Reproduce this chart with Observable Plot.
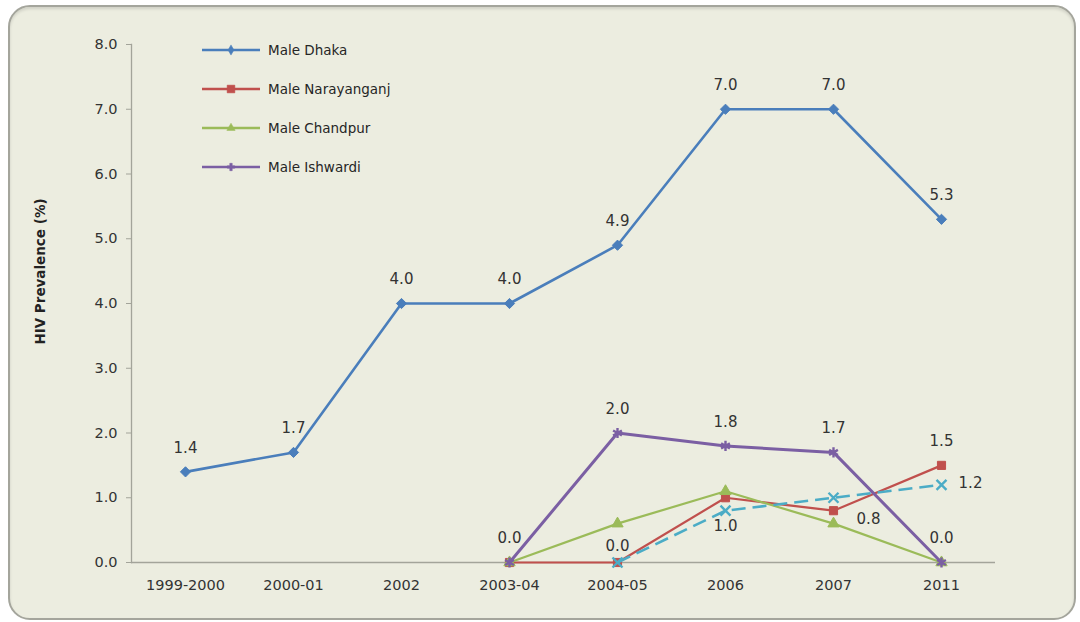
<!DOCTYPE html>
<html>
<head>
<meta charset="utf-8">
<script src="https://cdn.jsdelivr.net/npm/d3@7"></script>
<script src="https://cdn.jsdelivr.net/npm/@observablehq/plot@0.6"></script>
<style>
  html, body { margin: 0; padding: 0; background: #ffffff; }
  body { width: 1080px; height: 622px; position: relative; overflow: hidden; font-family: "DejaVu Sans", sans-serif; }
  #panel {
    position: absolute; left: 8px; top: 5px; width: 1064px; height: 611px;
    border: 2px solid #a4a59c; border-radius: 22px; background: #ecede0;
    box-shadow: inset 0 2px 3px rgba(0,0,0,0.12);
  }
  #chart { position: absolute; left: 0; top: 0; }
  #legend { position: absolute; left: 200px; top: 40px; }
  .lg-row { display: flex; align-items: center; height: 20px; margin-bottom: 19px; }
  .lg-row span { font-size: 13.5px; color: #262626; margin-left: 6px; }
</style>
</head>
<body>
<div id="panel"></div>
<div id="chart"></div>
<div id="legend"></div>
<script>
// Survey rounds on the x axis
const years = ["1999-2000", "2000-01", "2002", "2003-04", "2004-05", "2006", "2007", "2011"];

// HIV prevalence (%) among males by site; null = no survey that round
const maleDhaka       = [1.4, 1.7, 4.0, 4.0, 4.9, 7.0, 7.0, 5.3];
const maleNarayanganj = [null, null, null, 0.0, 0.0, 1.0, 0.8, 1.5];
const maleChandpur    = [null, null, null, 0.0, 0.6, 1.1, 0.6, 0.0];
const maleIshwardi    = [null, null, null, 0.0, 2.0, 1.8, 1.7, 0.0];
const dashedSeries    = [null, null, null, null, 0.0, 0.8, 1.0, 1.2];

// Y axis ticks
const yTicks = [0, 1, 2, 3, 4, 5, 6, 7, 8];

// Which points carry a value label, and where the label sits
const dhakaLabels       = ["1999-2000", "2000-01", "2002", "2003-04", "2004-05", "2006", "2007", "2011"];
const ishwardiLabels    = ["2003-04", "2004-05", "2006", "2007", "2011"];
const narayanganjLabels = [["2004-05", "aboveNear"], ["2006", "below"], ["2007", "belowRight"], ["2011", "above"]];
const dashedLabels      = [["2011", "right"]];

// Drawing styles per series
const styles = {
  "Male Dhaka":       {color: "#4a7ebb", width: 2.6, symbol: "diamond2", r: 4.6, filled: true},
  "Male Narayanganj": {color: "#c0504d", width: 2.2, symbol: "square",   r: 4.6, filled: true},
  "Male Chandpur":    {color: "#9bbb59", width: 2.2, symbol: "triangle", r: 4.2, filled: true},
  "Male Ishwardi":    {color: "#7b5fa3", width: 3.0, symbol: "asterisk", r: 4.8, filled: false},
  "dashed":           {color: "#4bacc6", width: 2.6, symbol: "times",    r: 4.6, filled: false, dash: "14,7"}
};

const seriesList = [
  ["Male Dhaka", maleDhaka],
  ["Male Narayanganj", maleNarayanganj],
  ["Male Chandpur", maleChandpur],
  ["Male Ishwardi", maleIshwardi],
  ["dashed", dashedSeries]
];

const rows = [];
for (const [name, vals] of seriesList) {
  vals.forEach((v, i) => { if (v !== null) rows.push({series: name, year: years[i], value: v}); });
}
const valueOf = (name, year) => seriesList.find(s => s[0] === name)[1][years.indexOf(year)];

const labelRows = [];
dhakaLabels.forEach(y => labelRows.push({series: "Male Dhaka", year: y, value: valueOf("Male Dhaka", y), pos: "above"}));
ishwardiLabels.forEach(y => labelRows.push({series: "Male Ishwardi", year: y, value: valueOf("Male Ishwardi", y), pos: "above"}));
narayanganjLabels.forEach(([y, p]) => labelRows.push({series: "Male Narayanganj", year: y, value: valueOf("Male Narayanganj", y), pos: p}));
dashedLabels.forEach(([y, p]) => labelRows.push({series: "dashed", year: y, value: valueOf("dashed", y), pos: p}));

const offsets = {
  above: [0, -24], aboveNear: [0, -16], below: [0, 28], belowRight: [35, 8], right: [29, -2]
};

const seriesMarks = [];
for (const [name] of seriesList) {
  const st = styles[name];
  const data = rows.filter(r => r.series === name);
  seriesMarks.push(Plot.line(data, {
    x: "year", y: "value", stroke: st.color, strokeWidth: st.width,
    strokeDasharray: st.dash, strokeLinejoin: "round", strokeLinecap: "butt"
  }));
  seriesMarks.push(Plot.dot(data, st.filled
    ? {x: "year", y: "value", symbol: () => st.symbol, r: st.r, fill: st.color, stroke: st.color, strokeWidth: 1}
    : {x: "year", y: "value", symbol: () => st.symbol, r: st.r, fill: "none", stroke: st.color, strokeWidth: 2.4}));
}

const labelMarks = Object.keys(offsets).map(p => Plot.text(labelRows.filter(d => d.pos === p), {
  x: "year", y: "value", text: d => d.value.toFixed(1),
  dx: offsets[p][0], dy: offsets[p][1],
  fill: "#333333", fontSize: 15, textAnchor: "middle"
}));

const chart = Plot.plot({
  width: 1080,
  height: 622,
  marginLeft: 131,
  marginRight: 85,
  marginTop: 44,
  marginBottom: 60,
  style: {background: "transparent", fontFamily: "DejaVu Sans, sans-serif", overflow: "visible"},
  x: {type: "point", domain: years, padding: 0.5},
  y: {domain: [0, 8]},
  symbol: {type: "identity"},
  marks: [
    Plot.ruleY([0], {stroke: "#a3a49a", strokeWidth: 1.3}),
    Plot.frame({anchor: "left", stroke: "#a3a49a", strokeWidth: 1.3}),
    Plot.axisY({ticks: yTicks, tickFormat: d => d.toFixed(1), tickSize: 5, tickPadding: 9,
      stroke: "#a3a49a", fill: "#333333", fontSize: 14.5, label: null}),
    Plot.axisX({tickSize: 0, tickPadding: 17, fill: "#333333", fontSize: 14.5, label: null,
      style: {letterSpacing: "0.4px"}}),
    Plot.text(["HIV Prevalence (%)"], {frameAnchor: "left", textAnchor: "middle", dx: -91, dy: -32, rotate: -90,
      fontWeight: "bold", fontSize: 13.5, fill: "#222222"}),
    ...seriesMarks,
    ...labelMarks
  ]
});
document.getElementById("chart").append(chart);

// Legend for the four named sites
const legendNames = ["Male Dhaka", "Male Narayanganj", "Male Chandpur", "Male Ishwardi"];
const legendSymbols = {
  "Male Dhaka": d3.symbolDiamond, "Male Narayanganj": d3.symbolSquare,
  "Male Chandpur": d3.symbolTriangle, "Male Ishwardi": d3.symbolCross
};
const legend = d3.select("#legend");
for (const name of legendNames) {
  const st = styles[name];
  const row = legend.append("div").attr("class", "lg-row");
  const svg = row.append("svg").attr("width", 62).attr("height", 20);
  svg.append("line").attr("x1", 2).attr("x2", 60).attr("y1", 10).attr("y2", 10)
    .attr("stroke", st.color).attr("stroke-width", 2.6);
  const size = name === "Male Narayanganj" ? 60 : 30;
  svg.append("path").attr("d", d3.symbol(legendSymbols[name], size)())
    .attr("transform", "translate(31,10)")
    .attr("fill", st.color).attr("stroke", st.color).attr("stroke-width", 0.5);
  row.append("span").text(name);
}
</script>
</body>
</html>
